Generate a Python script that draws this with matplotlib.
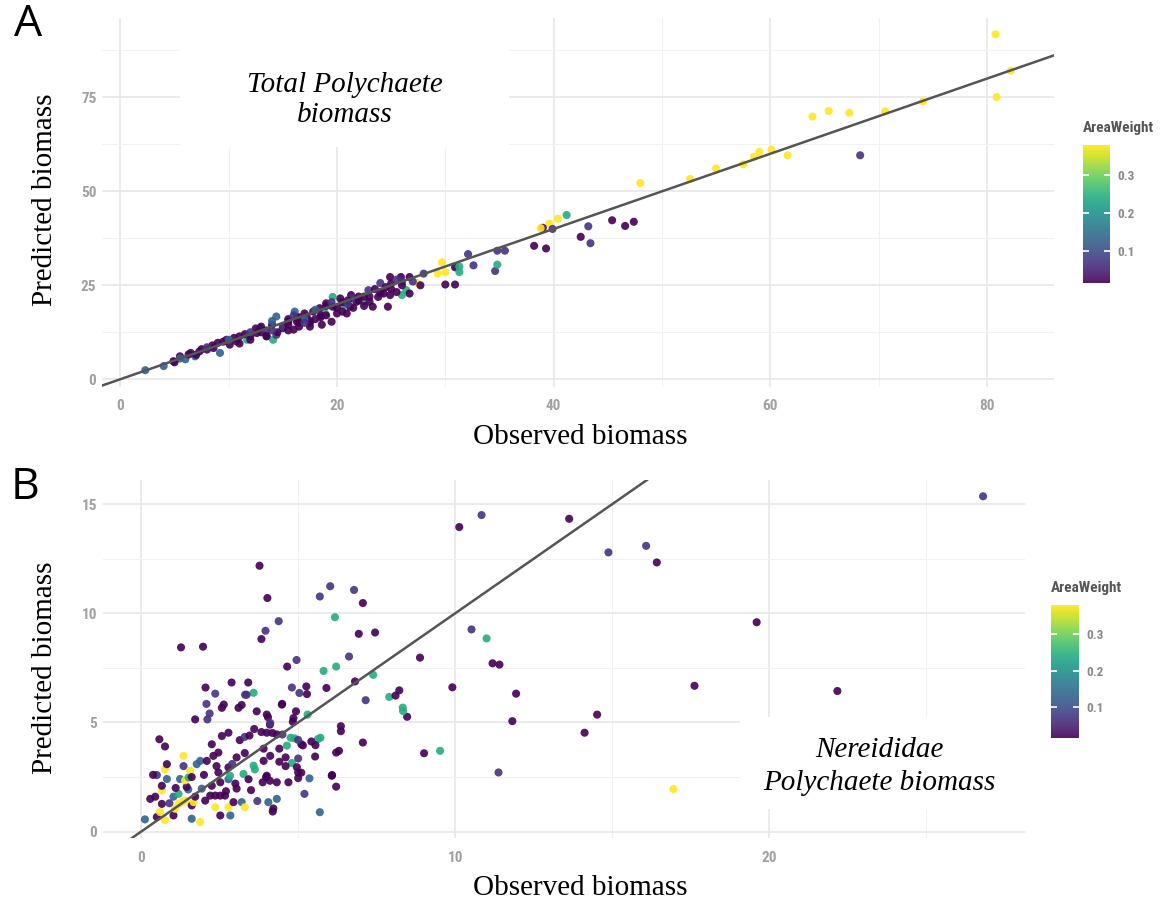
import matplotlib
matplotlib.use("Agg")
import matplotlib.pyplot as plt
from matplotlib import font_manager
from matplotlib.colors import Normalize
from matplotlib.patches import Rectangle

# AreaWeight levels used for the points
P, Q, B, T, Y = 0.016, 0.07, 0.13, 0.24, 0.38

# ---- Panel A: total polychaete biomass ----
total_obs = [80.8, 82.2, 80.9, 74.1, 70.6, 67.3, 65.4, 63.9, 68.3, 61.6, 60.1, 59.0, 58.5, 57.5, 55.0,
             52.6, 48.0, 41.2, 40.4, 39.6, 39.0, 39.9, 38.8, 38.2, 39.3, 42.5, 43.2, 43.4, 45.4, 46.6,
             47.4, 35.5, 34.8, 34.6, 34.8, 32.6, 32.1, 30.9, 31.3, 31.3, 30.0, 30.9, 29.7, 29.3, 30.0,
             27.4, 28.0, 27.7, 26.7, 24.9, 25.9, 24.0, 26.4, 26.7, 26.0, 25.5, 24.9, 24.3, 23.8, 24.7,
             23.3, 22.9, 22.4, 21.8, 21.3, 21.2, 20.6, 20.3, 19.6, 19.0, 19.6, 20.0, 18.9, 18.4, 17.8,
             17.2, 16.3, 16.1, 19.5, 18.6, 17.5, 20.9, 23.0, 2.3, 4.0, 4.9, 5.5, 6.0, 6.3, 6.9,
             7.3, 8.0, 8.6, 9.2, 9.0, 9.8, 10.1, 10.7, 11.0, 11.7, 12.0, 12.6, 12.9, 13.5, 14.1,
             14.4, 14.4, 15.0, 15.5, 16.0, 16.3, 12.5, 13.0, 14.0, 15.0, 11.5, 13.5, 16.5, 17.0, 18.0,
             18.5, 15.5, 17.5, 19.0, 20.5, 21.5, 22.0, 23.5, 25.0, 26.0, 10.5, 9.5, 8.5, 7.5, 6.5,
             5.5, 5.0, 7.0, 11.0, 12.0, 13.5, 14.5, 15.5, 16.5, 17.5, 18.5, 20.5, 21.5, 22.5, 14.0,
             16.0, 17.0, 12.0, 19.5, 21.0, 22.5, 24.5, 25.5, 10.0, 8.0,
             13.0, 14.0, 15.5, 16.5, 17.0, 18.0, 19.0, 20.0, 21.0, 22.0, 23.0, 24.0, 25.0, 26.0, 27.0]
total_pred = [91.8, 82.1, 75.1, 73.9, 71.3, 70.9, 71.4, 69.9, 59.6, 59.6, 61.1, 60.5, 59.2, 57.2, 56.1,
              53.3, 52.2, 43.7, 42.7, 41.4, 40.3, 40.0, 40.2, 35.5, 34.8, 37.9, 40.7, 36.2, 42.3, 40.8,
              41.9, 34.2, 34.2, 28.8, 30.5, 30.3, 33.3, 29.8, 30.0, 28.5, 25.2, 25.2, 31.1, 28.1, 28.5,
              25.6, 28.1, 25.0, 27.2, 27.2, 27.2, 25.6, 23.7, 22.8, 22.4, 23.2, 22.4, 22.8, 21.9, 19.3,
              19.3, 23.7, 20.6, 20.6, 22.4, 19.3, 19.7, 21.5, 21.9, 20.2, 19.3, 17.5, 17.5, 18.9, 18.0,
              16.7, 16.2, 18.0, 15.3, 14.5, 14.0, 17.5, 20.6, 2.4, 3.5, 4.8, 6.1, 5.3, 6.6, 6.1,
              7.4, 7.9, 8.3, 7.0, 9.7, 10.5, 9.2, 10.1, 11.4, 10.5, 11.4, 12.3, 13.6, 11.4, 10.5,
              11.8, 16.7, 13.6, 15.3, 13.2, 15.3, 13.5, 12.5, 14.5, 14.0, 12.0, 13.0, 16.5, 17.5, 18.5,
              17.0, 16.0, 15.5, 19.5, 20.5, 21.5, 21.0, 24.0, 25.5, 26.0, 11.0, 10.0, 9.0, 8.0, 7.0,
              5.5, 4.5, 6.5, 9.5, 10.5, 11.5, 12.5, 13.0, 14.0, 15.0, 16.5, 18.0, 19.0, 19.5, 15.5,
              17.0, 16.0, 12.5, 20.5, 21.0, 22.0, 24.5, 26.5, 10.5, 8.5,
              14.0, 13.0, 14.5, 15.0, 15.0, 16.0, 17.0, 19.0, 20.0, 22.0, 22.0, 23.0, 24.0, 25.0, 26.0]
total_weight = [Y, Y, Y, Y, Y, Y, Y, Y, Q, Y, Y, Y, Y, Y, Y,
                Y, Y, T, Y, Y, P, Q, Y, P, P, P, Q, Q, P, P,
                P, Q, Q, Q, T, Q, Q, P, T, T, P, P, Y, Y, Y,
                Y, Q, P, P, P, P, Q, T, P, T, P, P, P, P, P,
                P, Q, T, P, P, P, T, P, T, P, P, P, T, P, P,
                P, P, B, P, P, P, P, P, B, B, P, P, B, P, B,
                P, P, P, B, P, P, P, P, P, T, P, P, B, P, T,
                Q, B, P, P, P, P, P, P, P, Q, P, Q, P, P, B,
                P, P, P, P, P, Q, P, P, P, Q, P, P, P, P, P,
                B, P, P, P, P, P, P, P, P, P, P, P, P, P, B,
                Q, B, Q, Q, P, P, P, Q, B, Q,
                P, Q, P, P, Q, P, P, P, Q, P, P, P, P, P, Q]

# ---- Panel B: Nereididae polychaete biomass ----
nereid_obs = [0.12, 10.84, 10.13, 13.63, 3.77, 4.02, 6.02, 6.78, 5.69, 7.06, 6.17, 4.38, 3.96, 3.83, 6.93,
              7.45, 10.52, 11.0, 1.27, 1.97, 8.88, 6.62, 4.95, 4.65, 5.81, 6.21, 7.39, 11.19, 11.41, 9.91,
              11.94, 11.82, 11.38, 14.52, 14.12, 9.01, 9.52, 8.47, 8.34, 8.33, 7.9, 8.1, 8.22, 6.81, 7.15,
              7.06, 6.21, 6.3, 6.08, 6.21, 5.9, 5.26, 5.28, 5.04, 4.8, 4.49, 5.3, 4.93, 4.85, 4.83,
              4.04, 3.68, 4.1, 3.83, 4.18, 6.36, 6.36, 5.63, 5.71, 5.55, 5.1, 4.89, 4.76, 4.64, 4.5,
              4.8, 5.0, 5.0, 5.36, 5.2, 5.69, 16.95, 14.88, 16.08, 16.42, 19.6, 17.62, 22.17, 26.81, 0.5,
              0.76, 0.6, 0.66, 0.29, 0.45, 1.03, 1.08, 1.19, 1.3, 1.4, 1.03, 1.19, 1.61, 1.88, 1.61,
              1.67, 1.72, 1.5, 1.45, 0.66, 0.66, 0.82, 0.5, 0.38, 0.76, 0.82, 0.58, 0.76, 1.24, 1.4,
              1.51, 1.35, 1.35, 1.56, 1.61, 1.77, 1.88, 2.09, 1.93, 2.04, 2.2, 2.36, 2.52, 2.67, 2.36,
              2.78, 2.52, 2.84, 2.25, 2.52, 2.78, 2.83, 3.04, 3.2, 3.3, 2.94, 2.7, 2.46, 2.3, 2.46,
              2.25, 2.57, 2.78, 2.11, 1.72, 2.18, 2.57, 3.1, 3.14, 3.3, 3.45, 3.04, 2.78, 3.58, 3.62,
              3.26, 3.42, 3.9, 4.11, 4.0, 4.11, 4.32, 4.48, 4.0, 4.0, 4.1, 4.32, 4.05, 4.32, 4.21,
              3.31, 3.58, 2.88, 2.36, 2.05, 2.08, 3.41, 3.36, 2.63, 3.2, 4.4, 4.6, 4.96, 5.1, 6.07,
              4.69, 3.87, 3.98, 4.19, 5.42, 5.15, 5.0, 5.54, 5.0, 4.6,
              2.0, 2.4, 3.0, 3.5, 3.7, 3.9, 3.3, 1.1, 0.9, 2.9, 4.4, 3.6]
nereid_pred = [0.56, 14.5, 13.95, 14.33, 12.18, 10.7, 11.24, 11.07, 10.77, 10.47, 9.82, 9.64, 9.2, 8.82, 9.06,
               9.12, 9.26, 8.85, 8.44, 8.47, 7.97, 8.02, 7.86, 7.56, 7.36, 7.56, 7.18, 7.71, 7.65, 6.61,
               6.32, 5.06, 2.71, 5.36, 4.53, 3.59, 3.7, 5.26, 5.52, 5.68, 6.17, 6.23, 6.47, 6.88, 6.02,
               4.08, 3.62, 3.7, 2.59, 2.06, 6.58, 6.65, 6.3, 6.35, 6.6, 5.85, 5.36, 5.51, 5.2, 5.03,
               5.24, 5.51, 4.9, 4.56, 4.52, 4.83, 4.6, 4.24, 4.3, 3.96, 4.0, 4.27, 4.3, 3.94, 4.45,
               3.14, 2.71, 2.45, 2.44, 1.73, 0.89, 1.95, 12.79, 13.09, 12.33, 9.59, 6.68, 6.44, 15.36, 0.67,
               0.52, 0.9, 1.27, 1.5, 1.6, 0.74, 1.05, 1.27, 1.35, 1.42, 1.6, 1.73, 0.59, 0.44, 1.2,
               1.35, 1.6, 1.93, 2.05, 1.88, 2.1, 2.41, 2.59, 2.6, 2.86, 3.09, 4.23, 3.9, 2.41, 2.35,
               2.48, 3.0, 3.47, 2.79, 2.5, 3.09, 3.24, 3.24, 1.97, 1.42, 1.65, 1.65, 1.65, 1.65, 1.12,
               1.12, 0.74, 0.74, 2.1, 2.26, 2.4, 2.56, 1.97, 1.35, 1.12, 1.35, 1.85, 2.71, 3.47, 3.62,
               4.0, 4.38, 4.53, 5.14, 5.14, 5.41, 5.67, 5.67, 4.19, 4.34, 4.4, 3.4, 2.94, 3.02, 2.85,
               2.64, 2.4, 3.24, 3.47, 4.53, 4.98, 4.45, 5.82, 5.36, 2.56, 2.33, 2.26, 1.35, 1.5, 1.06,
               6.27, 6.36, 6.83, 6.32, 6.6, 5.85, 6.83, 6.27, 5.82, 5.8, 3.2, 3.0, 2.95, 2.7, 2.56,
               2.26, 2.26, 2.5, 0.92, 4.13, 3.95, 4.2, 3.44, 3.35, 3.4,
               2.6, 3.0, 2.2, 1.9, 1.4, 3.8, 3.6, 2.0, 1.3, 3.1, 3.8, 4.7]
nereid_weight = [B, Q, P, P, P, P, Q, Q, Q, P, T, Q, Q, P, P,
                 P, Q, T, P, P, P, Q, Q, P, T, T, T, P, P, P,
                 P, P, Q, P, P, P, T, P, T, T, T, P, P, P, Q,
                 P, P, P, P, P, P, P, P, Q, Q, P, T, P, P, P,
                 P, P, P, P, P, P, P, T, T, P, P, T, T, T, Q,
                 T, P, P, B, Q, B, Y, Q, Q, P, P, P, P, Q, P,
                 Y, Y, P, P, P, P, Y, Y, Y, Y, B, T, B, Y, P,
                 Y, P, B, P, Y, P, B, Q, P, Y, P, P, P, B, Y,
                 T, Q, Y, Y, P, B, B, P, B, P, P, P, P, P, Y,
                 Y, P, B, P, P, B, T, P, B, Y, P, P, P, P, P,
                 P, P, P, Q, P, Q, P, P, P, Q, P, P, P, T, T,
                 T, P, P, P, P, Q, P, P, P, P, P, P, B, B, P,
                 Q, T, P, Q, P, Q, P, Q, P, P, P, P, P, P, P,
                 P, P, P, P, P, P, Q, P, Q, P,
                 P, P, P, P, Q, P, P, P, Q, Q, P, P]

x_ticks_total, y_ticks_total = [0, 20, 40, 60, 80], [0, 25, 50, 75]
x_minor_total, y_minor_total = [10, 30, 50, 70], [12.5, 37.5, 62.5, 87.5]
x_ticks_nereid, y_ticks_nereid = [0, 10, 20], [0, 5, 10, 15]
x_minor_nereid, y_minor_nereid = [5, 15, 25], [2.5, 7.5, 12.5]
cbar_ticks = [0.1, 0.2, 0.3]

# ---- fonts ----
available = {f.name for f in font_manager.fontManager.ttflist}
serif = "Liberation Serif" if "Liberation Serif" in available else "DejaVu Serif"
narrow = next((n for n in ["Liberation Sans Narrow", "Roboto Condensed", "Liberation Serif"]
               if n in available), "DejaVu Sans")
letter_font = next((n for n in ["Open Sans", "Noto Sans", "DejaVu Sans"] if n in available), "DejaVu Sans")

TICK_COLOR = "#a0a0a0"
GRID_MAJOR = "#e6e6e6"
GRID_MINOR = "#f1f1f1"

W, H = 1170, 907
fig = plt.figure(figsize=(W / 100, H / 100), dpi=100)


def fig_rect(left, top, right, bottom):
    return [left / W, 1 - bottom / H, (right - left) / W, (bottom - top) / H]


def padded(vals, frac=0.05):
    lo, hi = min(vals), max(vals)
    pad = (hi - lo) * frac
    return lo - pad, hi + pad


def style_axes(ax, xt, yt, xm, ym):
    ax.set_xticks(xt)
    ax.set_yticks(yt)
    ax.set_xticks(xm, minor=True)
    ax.set_yticks(ym, minor=True)
    ax.grid(which="major", color=GRID_MAJOR, lw=1.1, zorder=0)
    ax.grid(which="minor", color=GRID_MINOR, lw=0.8, zorder=0)
    ax.set_axisbelow(True)
    for s in ax.spines.values():
        s.set_visible(False)
    ax.tick_params(which="both", length=0)
    ax.tick_params(axis="x", pad=9)
    ax.tick_params(axis="y", pad=4)
    for lab in ax.get_xticklabels() + ax.get_yticklabels():
        lab.set_fontfamily(narrow)
        lab.set_fontsize(11)
        lab.set_color(TICK_COLOR)
        lab.set_fontweight("bold")


def add_colorbar(sc, rect, title_xy):
    cax = fig.add_axes(rect)
    cb = fig.colorbar(sc, cax=cax, ticks=cbar_ticks)
    cb.outline.set_visible(False)
    cax.tick_params(axis="y", direction="in", length=4, width=1.2, color="white",
                    left=True, right=True, labelright=True, labelleft=False, pad=5)
    for lab in cax.get_yticklabels():
        lab.set_fontfamily(narrow)
        lab.set_fontsize(9.5)
        lab.set_color("#8a8a8a")
        lab.set_fontweight("bold")
    fig.text(title_xy[0] / W, 1 - title_xy[1] / H, "AreaWeight", fontfamily=narrow,
             fontsize=11, color="#555555", ha="left", va="center", fontweight="bold")


cmap = plt.get_cmap("viridis")

# ---- Panel A ----
axA = fig.add_axes(fig_rect(102, 17.5, 1054, 387))
normA = Normalize(vmin=min(total_weight), vmax=max(total_weight))
scA = axA.scatter(total_obs, total_pred, c=total_weight, cmap=cmap, norm=normA,
                  s=34, alpha=0.9, linewidths=0, zorder=3)
axA.set_xlim(*padded(total_obs))
axA.set_ylim(*padded(total_pred))
axA.axline((0, 0), slope=1, color="#555555", lw=1.8, zorder=4)
style_axes(axA, x_ticks_total, y_ticks_total, x_minor_total, y_minor_total)
axA.add_patch(Rectangle((5.5, 61.8), 30.4, 40, facecolor="white", edgecolor="none", zorder=1))
axA.text(20.7, 74.3, "Total Polychaete\nbiomass", fontfamily=serif, style="italic",
         fontsize=21, ha="center", va="center", linespacing=1.22, zorder=5)
add_colorbar(scA, fig_rect(1083, 145, 1110, 283), (1083, 128))

# ---- Panel B ----
axB = fig.add_axes(fig_rect(103, 480, 1025, 838.3))
normB = Normalize(vmin=min(nereid_weight), vmax=max(nereid_weight))
scB = axB.scatter(nereid_obs, nereid_pred, c=nereid_weight, cmap=cmap, norm=normB,
                  s=34, alpha=0.9, linewidths=0, zorder=3)
axB.set_xlim(*padded(nereid_obs))
axB.set_ylim(*padded(nereid_pred))
axB.axline((0, 0), slope=1, color="#555555", lw=1.8, zorder=4)
style_axes(axB, x_ticks_nereid, y_ticks_nereid, x_minor_nereid, y_minor_nereid)
axB.add_patch(Rectangle((19.08, 1.05), 9.5, 4.18, facecolor="white", edgecolor="none", zorder=1))
axB.text(23.5, 2.98, "Nereididae\nPolychaete biomass", fontfamily=serif, style="italic",
         fontsize=21, ha="center", va="center", linespacing=1.38, zorder=5)
add_colorbar(scB, fig_rect(1051, 605, 1079, 738), (1051, 588))

# ---- axis titles and panel letters ----
for x, y, s, rot in [(580, 437, "Observed biomass", 0), (45, 200, "Predicted biomass", 90),
                     (580, 888, "Observed biomass", 0), (45, 668, "Predicted biomass", 90)]:
    fig.text(x / W, 1 - y / H, s, fontfamily=serif, fontsize=21, rotation=rot,
             ha="center", va="center")
fig.text(28 / W, 1 - 25 / H, "A", fontfamily=letter_font, fontsize=32, ha="center", va="center")
fig.text(25 / W, 1 - 488 / H, "B", fontfamily=letter_font, fontsize=32, ha="center", va="center")

fig.savefig("out.png", dpi=100)
